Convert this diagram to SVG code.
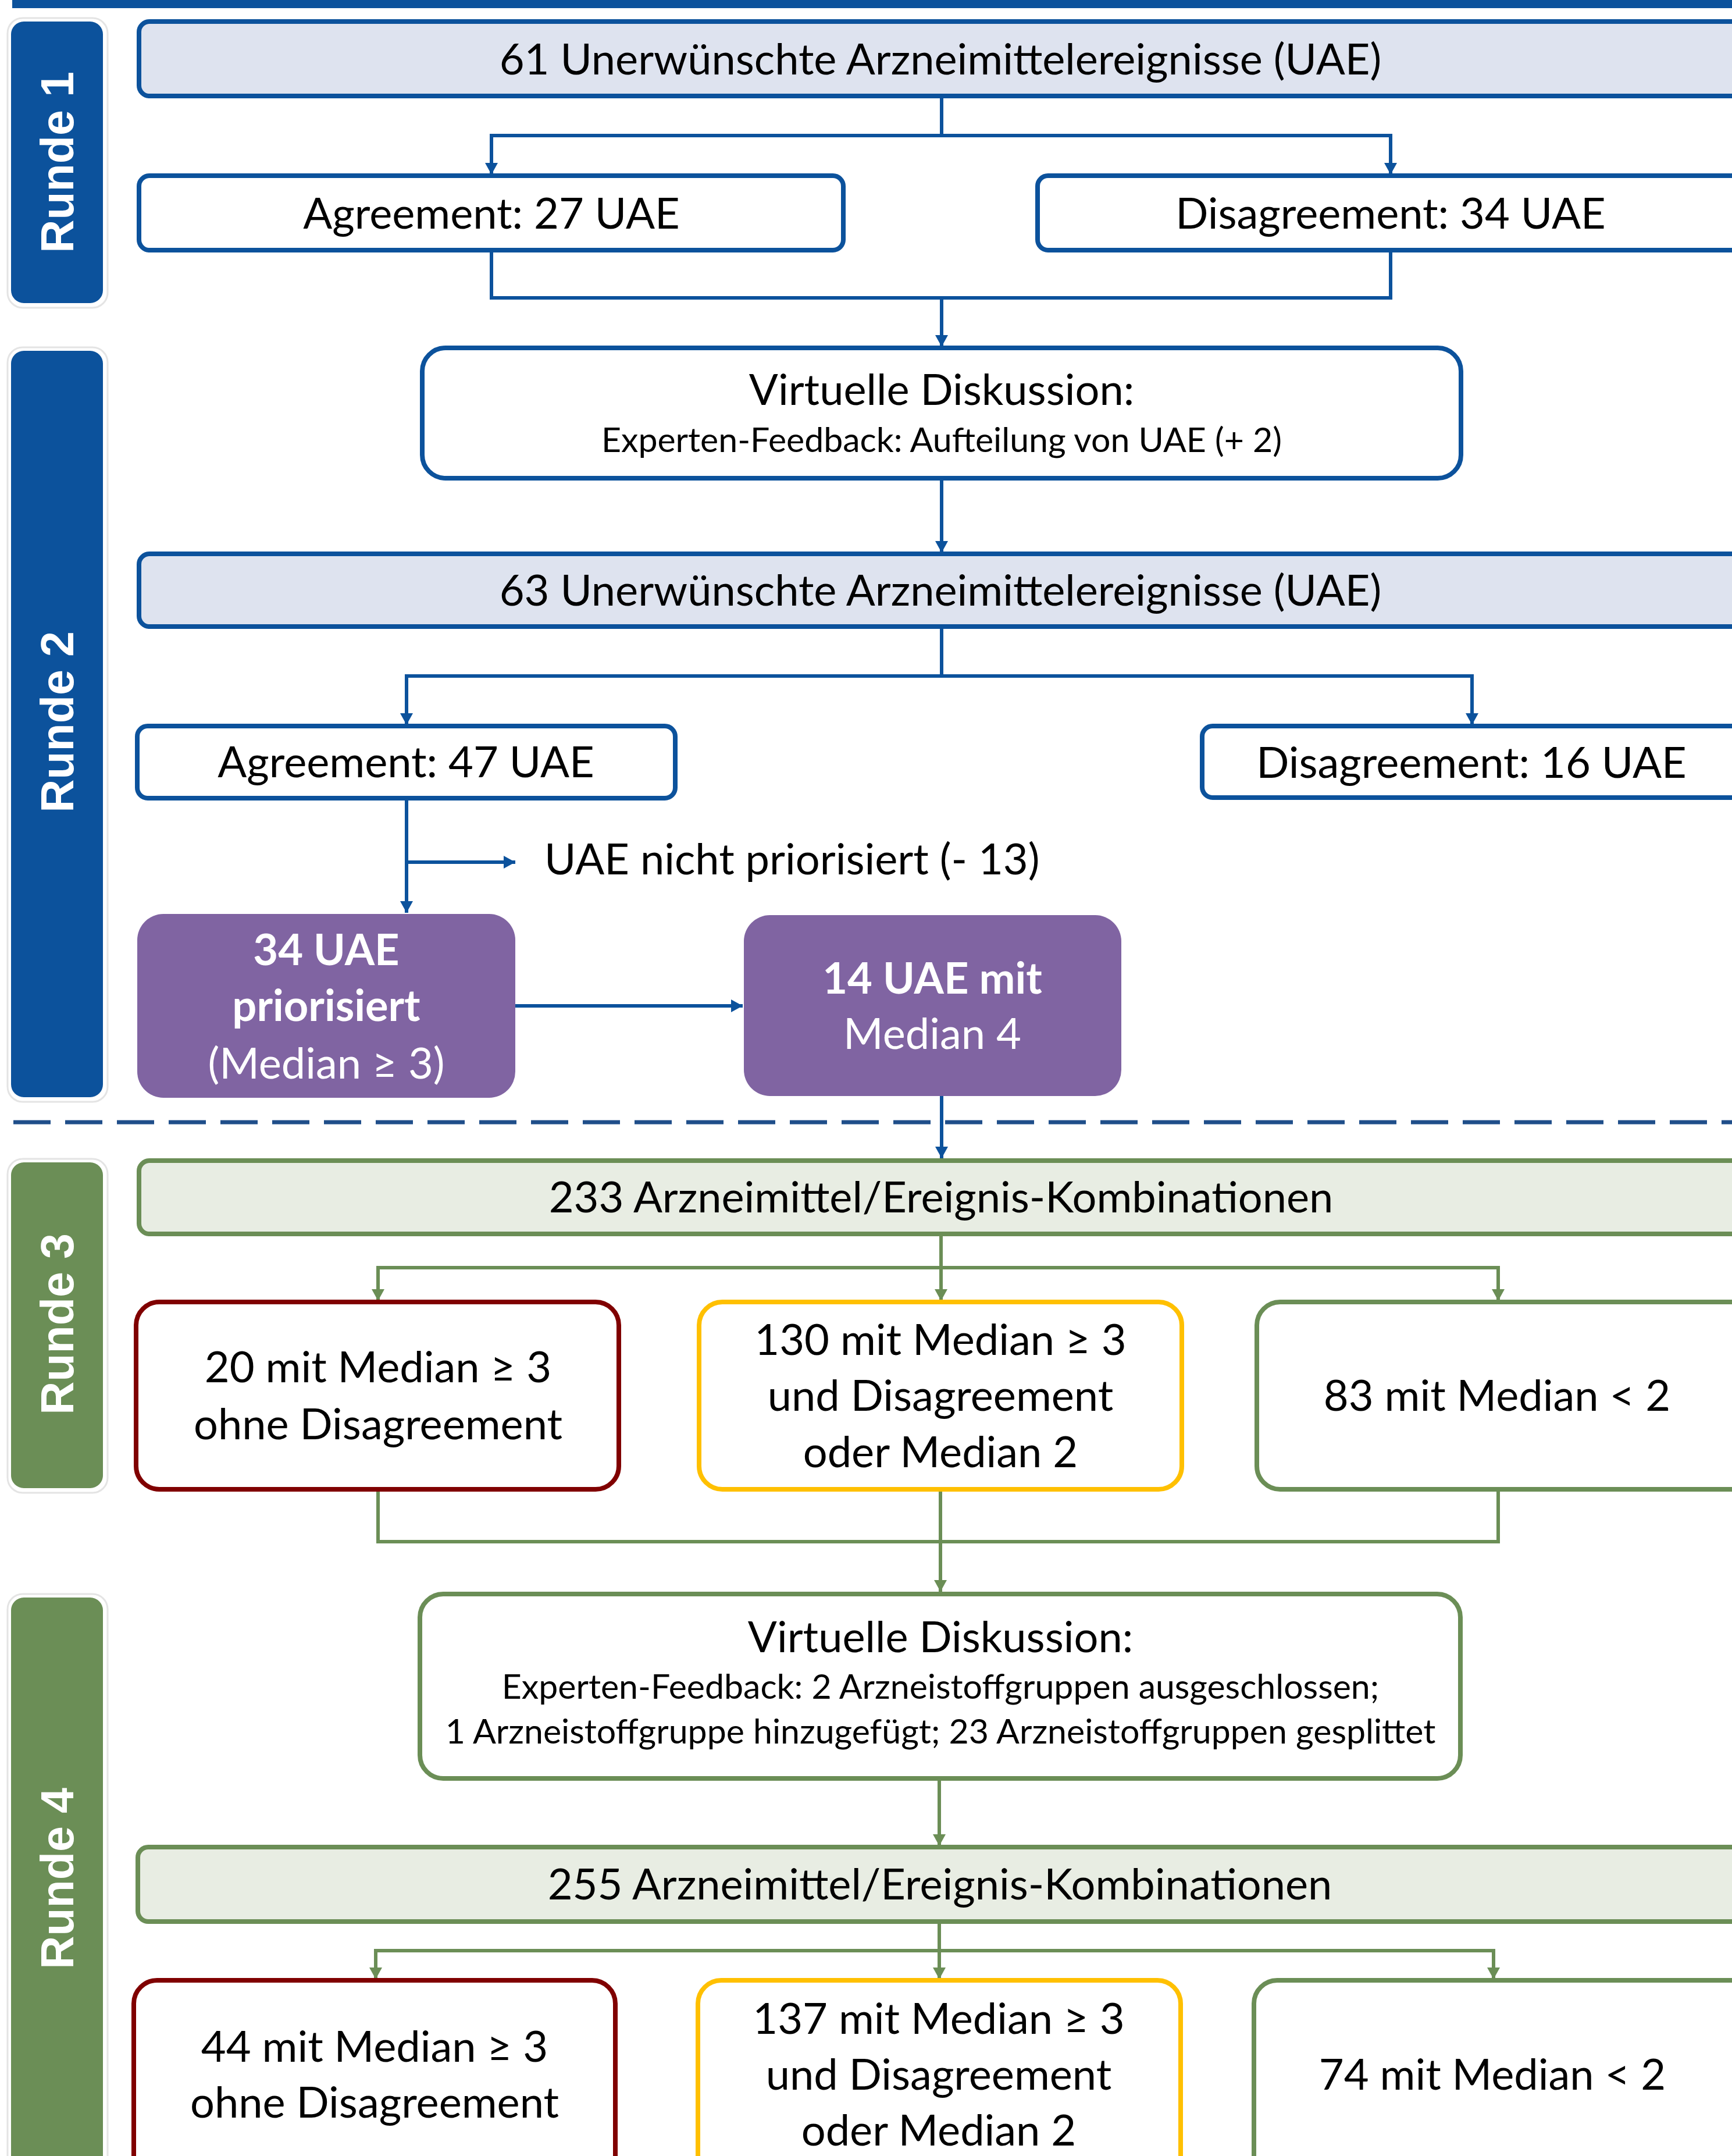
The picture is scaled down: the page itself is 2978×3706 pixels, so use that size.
<svg xmlns="http://www.w3.org/2000/svg" width="2978" height="3706" viewBox="0 0 2978 3706">
<style>
.t{font-family:Lato,"Liberation Sans",sans-serif;font-size:74px;text-anchor:middle;fill:#000}
.s{font-size:59px}
.w{fill:#fff}
.b{font-weight:bold}
.side{font-family:"Liberation Sans",Arial,sans-serif;font-weight:bold;font-size:79px;fill:#fff;text-anchor:middle}
.bx{stroke:#0C529C;stroke-width:8;fill:#fff}
.bxl{stroke:#0C529C;stroke-width:8;fill:#DEE3EF}
.gx{stroke:#6B8E56;stroke-width:8;fill:#fff}
.gxl{stroke:#6B8E56;stroke-width:8;fill:#E8EDE3}
.rx{stroke:#800000;stroke-width:8;fill:#fff}
.yx{stroke:#FFC000;stroke-width:8;fill:#fff}
.px{fill:#8064A2}
.cb{fill:none;stroke:#0C529C;stroke-width:6}
.cg{fill:none;stroke:#6B8E56;stroke-width:6}
.sh{fill:#fff;stroke:#E4E4E4;stroke-width:3}
</style>
<defs>
<marker id="ab" markerUnits="userSpaceOnUse" markerWidth="20" markerHeight="22" refX="20" refY="11" orient="auto"><path d="M0,0 L20,11 L0,22 z" fill="#0C529C"/></marker>
<marker id="ag" markerUnits="userSpaceOnUse" markerWidth="20" markerHeight="22" refX="20" refY="11" orient="auto"><path d="M0,0 L20,11 L0,22 z" fill="#6B8E56"/></marker>
</defs>
<rect x="21" y="0" width="2960" height="14" fill="#0C529C"/>
<g id="sidebars">
<g id="runde1"><rect class="sh" x="13" y="31" width="172" height="498" rx="26"/><rect x="19" y="37" width="158" height="484" rx="22" fill="#0C529C"/><text class="side" transform="translate(126,279) rotate(-90)">Runde 1</text></g>
<g id="runde2"><rect class="sh" x="13" y="597" width="172" height="1297" rx="26"/><rect x="19" y="603" width="158" height="1283" rx="22" fill="#0C529C"/><text class="side" transform="translate(126,1241) rotate(-90)">Runde 2</text></g>
<g id="runde3"><rect class="sh" x="13" y="1992" width="172" height="574" rx="26"/><rect x="19" y="1998" width="158" height="560" rx="22" fill="#6B8E56"/><text class="side" transform="translate(126,2276) rotate(-90)">Runde 3</text></g>
<g id="runde4"><rect class="sh" x="13" y="2740" width="172" height="1020" rx="26"/><rect x="19" y="2746" width="158" height="1000" rx="22" fill="#6B8E56"/><text class="side" transform="translate(126,3229) rotate(-90)">Runde 4</text></g>
</g>
<line x1="23" y1="1929" x2="2978" y2="1929" stroke="#1F4E8A" stroke-width="7" stroke-dasharray="64 25"/>
<g id="connectors">
<path class="cb" d="M1619,165 V233 H845 V300" marker-end="url(#ab)"/>
<path class="cb" d="M1619,233 H2391 V300" marker-end="url(#ab)"/>
<path class="cb" d="M845,430 V512 H2391 V430"/>
<path class="cb" d="M1619,512 V596" marker-end="url(#ab)"/>
<path class="cb" d="M1619,822 V950" marker-end="url(#ab)"/>
<path class="cb" d="M1619,1077 V1162 H699 V1246" marker-end="url(#ab)"/>
<path class="cb" d="M1619,1162 H2531 V1246" marker-end="url(#ab)"/>
<path class="cb" d="M699,1372 V1569" marker-end="url(#ab)"/>
<path class="cb" d="M699,1482 H886" marker-end="url(#ab)"/>
<path class="cb" d="M886,1729 H1277" marker-end="url(#ab)"/>
<path class="cb" d="M1619,1884 V1991" marker-end="url(#ab)"/>
<path class="cg" d="M1618,2121 V2236" marker-end="url(#ag)"/>
<path class="cg" d="M1618,2179 H650 V2236" marker-end="url(#ag)"/>
<path class="cg" d="M1618,2179 H2576 V2236" marker-end="url(#ag)"/>
<path class="cg" d="M650,2560 V2650 H2576 V2560"/>
<path class="cg" d="M1617,2560 V2736" marker-end="url(#ag)"/>
<path class="cg" d="M1615,3057 V3173" marker-end="url(#ag)"/>
<path class="cg" d="M1615,3303 V3402" marker-end="url(#ag)"/>
<path class="cg" d="M1615,3353 H646 V3402" marker-end="url(#ag)"/>
<path class="cg" d="M1615,3353 H2568 V3402" marker-end="url(#ag)"/>
</g>
<g id="n61"><rect class="bxl" x="239" y="37" width="2790" height="128" rx="18"/><text class="t" x="1617" y="128">61 Unerwünschte Arzneimittelereignisse (UAE)</text></g>
<g id="agree27"><rect class="bx" x="239" y="302" width="1211" height="128" rx="18"/><text class="t" x="845" y="393">Agreement: 27 UAE</text></g>
<g id="disagree34"><rect class="bx" x="1784" y="302" width="1240" height="128" rx="18"/><text class="t" x="2391" y="393">Disagreement: 34 UAE</text></g>
<g id="vd1"><rect class="bx" x="726" y="598" width="1786" height="224" rx="40"/><text class="t" x="1619" y="696">Virtuelle Diskussion:</text><text class="t s" x="1619" y="777">Experten-Feedback: Aufteilung von UAE (+ 2)</text></g>
<g id="n63"><rect class="bxl" x="239" y="952" width="2790" height="125" rx="18"/><text class="t" x="1617" y="1041">63 Unerwünschte Arzneimittelereignisse (UAE)</text></g>
<g id="agree47"><rect class="bx" x="236" y="1248" width="925" height="124" rx="18"/><text class="t" x="698" y="1336">Agreement: 47 UAE</text></g>
<g id="disagree16"><rect class="bx" x="2067" y="1248" width="960" height="123" rx="18"/><text class="t" x="2530" y="1337">Disagreement: 16 UAE</text></g>
<g id="nichtprior"><text class="t" x="936" y="1503" style="text-anchor:start">UAE nicht priorisiert (- 13)</text></g>
<g id="p34"><rect class="px" x="236" y="1571" width="650" height="316" rx="45"/><text class="t w b" x="561" y="1659">34 UAE</text><text class="t w b" x="561" y="1755">priorisiert</text><text class="t w" x="561" y="1854">(Median ≥ 3)</text></g>
<g id="p14"><rect class="px" x="1279" y="1573" width="649" height="311" rx="45"/><text class="t w b" x="1603" y="1708">14 UAE mit</text><text class="t w" x="1603" y="1803">Median 4</text></g>
<g id="n233"><rect class="gxl" x="239" y="1995" width="2790" height="126" rx="18"/><text class="t" x="1618" y="2084">233 Arzneimittel/Ereignis-Kombinationen</text></g>
<g id="r20"><rect class="rx" x="234" y="2238" width="830" height="322" rx="40"/><text class="t" x="650" y="2376">20 mit Median ≥ 3</text><text class="t" x="650" y="2474">ohne Disagreement</text></g>
<g id="y130"><rect class="yx" x="1202" y="2238" width="830" height="322" rx="40"/><text class="t" x="1617" y="2329">130 mit Median ≥ 3</text><text class="t" x="1617" y="2425">und Disagreement</text><text class="t" x="1617" y="2522">oder Median 2</text></g>
<g id="g83"><rect class="gx" x="2161" y="2238" width="860" height="322" rx="40"/><text class="t" x="2574" y="2425">83 mit Median &lt; 2</text></g>
<g id="vd2"><rect class="gx" x="722" y="2740" width="1789" height="317" rx="40"/><text class="t" x="1617" y="2840">Virtuelle Diskussion:</text><text class="t s" x="1617" y="2920">Experten-Feedback: 2 Arzneistoffgruppen ausgeschlossen;</text><text class="t s" x="1617" y="2997">1 Arzneistoffgruppe hinzugefügt; 23 Arzneistoffgruppen gesplittet</text></g>
<g id="n255"><rect class="gxl" x="237" y="3175" width="2790" height="128" rx="18"/><text class="t" x="1616" y="3265">255 Arzneimittel/Ereignis-Kombinationen</text></g>
<g id="r44"><rect class="rx" x="230" y="3404" width="828" height="400" rx="40"/><text class="t" x="644" y="3544">44 mit Median ≥ 3</text><text class="t" x="644" y="3640">ohne Disagreement</text></g>
<g id="y137"><rect class="yx" x="1200" y="3404" width="830" height="400" rx="40"/><text class="t" x="1614" y="3496">137 mit Median ≥ 3</text><text class="t" x="1614" y="3592">und Disagreement</text><text class="t" x="1614" y="3688">oder Median 2</text></g>
<g id="g74"><rect class="gx" x="2156" y="3404" width="860" height="400" rx="40"/><text class="t" x="2566" y="3592">74 mit Median &lt; 2</text></g>
</svg>
